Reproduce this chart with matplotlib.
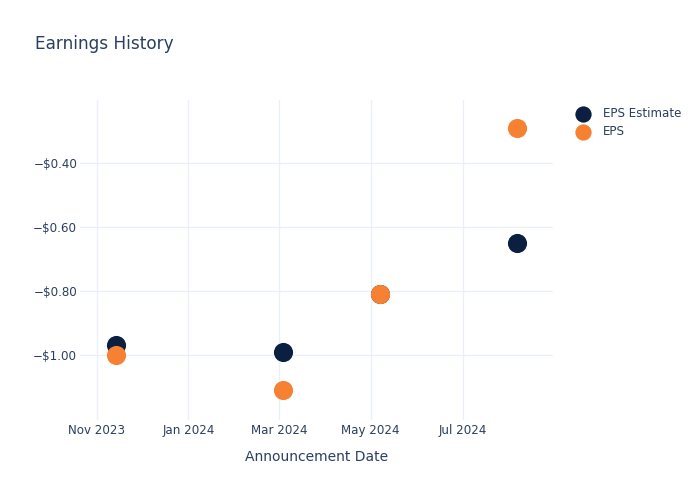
import numpy as np
import matplotlib
matplotlib.use("Agg")
import matplotlib.pyplot as plt
import matplotlib.dates as mdates
from matplotlib.ticker import FuncFormatter

dates = np.array(["2023-11-14", "2024-03-04", "2024-05-07", "2024-08-06"], dtype="datetime64[D]")
eps_estimate = [-0.97, -0.99, -0.81, -0.65]
eps_actual = [-1.00, -1.11, -0.81, -0.29]

txt = "#2a3f5f"
grid = "#ebf0f8"

fig = plt.figure(figsize=(7, 5), dpi=100)
ax = fig.add_axes([80/700, 80/500, 473/700, 320/500])

ax.scatter(dates, eps_estimate, s=190, color="#0b1f41", label="EPS Estimate", zorder=3, linewidths=0)
ax.scatter(dates, eps_actual, s=190, color="#f68133", label="EPS", zorder=4, linewidths=0)

ax.set_xlim(np.datetime64("2023-10-21"), np.datetime64("2024-08-30"))
ax.set_ylim(-1.203, -0.203)
ax.set_yticks([-1.0, -0.8, -0.6, -0.4])
ax.yaxis.set_major_formatter(FuncFormatter(lambda v, p: ("\u2212" if v < 0 else "") + "$%.2f" % abs(v)))
ax.set_xticks([np.datetime64(d) for d in ["2023-11-01", "2024-01-01", "2024-03-01", "2024-05-01", "2024-07-01"]])
ax.xaxis.set_major_formatter(mdates.DateFormatter("%b %Y"))

ax.grid(True, color=grid, linewidth=1)
ax.set_axisbelow(True)
for s in ax.spines.values():
    s.set_visible(False)
ax.tick_params(length=0, labelsize=8.6, colors=txt)
ax.tick_params(axis="x", pad=3)
ax.tick_params(axis="y", pad=2)
ax.set_xlabel("Announcement Date", fontsize=10, color=txt, labelpad=9)

fig.text(35/700, 1 - 44/500, "Earnings History", fontsize=12.2, color=txt, va="center")

leg = fig.legend(loc="upper left", bbox_to_anchor=(566/700, 1 - 102/500), frameon=False,
                 fontsize=8.6, labelcolor=txt, handletextpad=0.7, labelspacing=0.45,
                 borderaxespad=0, markerscale=0.85)

fig.savefig("out.png", dpi=100)
